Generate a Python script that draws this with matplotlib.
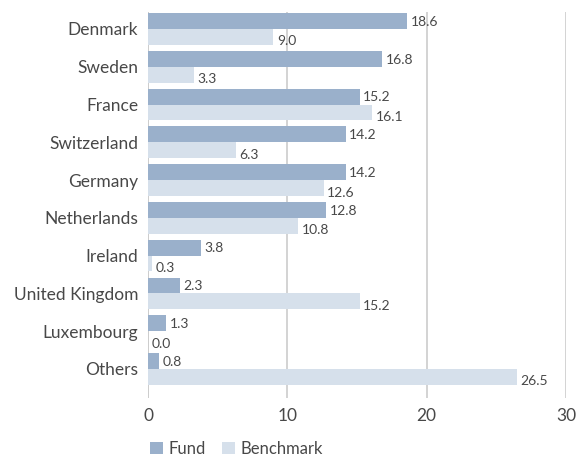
import matplotlib
matplotlib.use("Agg")
import matplotlib.pyplot as plt
import numpy as np

categories = ["Denmark", "Sweden", "France", "Switzerland", "Germany",
              "Netherlands", "Ireland", "United Kingdom", "Luxembourg", "Others"]
fund = [18.6, 16.8, 15.2, 14.2, 14.2, 12.8, 3.8, 2.3, 1.3, 0.8]
benchmark = [9.0, 3.3, 16.1, 6.3, 12.6, 10.8, 0.3, 15.2, 0.0, 26.5]
xticks = [0, 10, 20, 30]

plt.rcParams['font.family'] = ['Lato', 'DejaVu Sans']
fund_color = "#9AB0CB"
bench_color = "#D6E0EB"
text_color = "#484848"

fig = plt.figure(figsize=(5.77, 4.58), dpi=100)
ax = fig.add_axes([148/577, 1-398/458, (566-148)/577, (398-12)/458])

y = np.arange(len(categories))
h = 0.42
ax.barh(y - h/2, fund, height=h, color=fund_color, label="Fund", zorder=3)
ax.barh(y + h/2, benchmark, height=h, color=bench_color, label="Benchmark", zorder=3)

for yi, v in zip(y, fund):
    ax.text(v + 0.25, yi - h/2 + 0.02, f"{v:.1f}", va="center", ha="left",
            fontsize=10, color=text_color, zorder=4)
for yi, v in zip(y, benchmark):
    ax.text(v + 0.25, yi + h/2 + 0.12, f"{v:.1f}", va="center", ha="left",
            fontsize=10, color=text_color, zorder=4)

ax.set_xlim(0, 30)
ax.set_ylim(len(categories) - 1 + 0.77, -0.45)
ax.set_yticks(y)
ax.set_yticklabels(categories, fontsize=12.5, color=text_color)
ax.set_xticks(xticks)
ax.set_xticklabels([str(t) for t in xticks], fontsize=12.5, color=text_color)
ax.tick_params(axis="both", length=0)
ax.tick_params(axis="x", pad=7)
ax.tick_params(axis="y", pad=7)
ax.grid(axis="x", color="#CCCCCC", linewidth=1.2, zorder=0)
for s in ax.spines.values():
    s.set_visible(False)
ax.axvline(0, color="#CCCCCC", linewidth=1.2, zorder=1)

leg = fig.legend(loc="lower left", bbox_to_anchor=(143/577, -0.012), ncol=2, frameon=False,
                 fontsize=12, handlelength=0.8, handleheight=0.8, handletextpad=0.3,
                 columnspacing=1.0, borderaxespad=0.0)
for t in leg.get_texts():
    t.set_color(text_color)

fig.savefig("out.png", dpi=100)
